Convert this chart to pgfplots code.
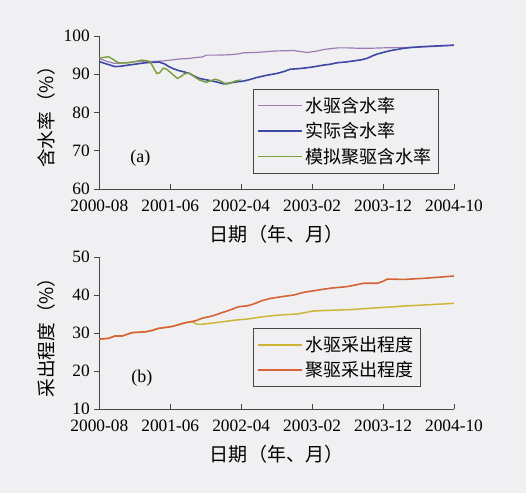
\documentclass[border=0pt]{standalone}
\usepackage{fontspec}
\setmainfont{Liberation Serif}
\newfontfamily\cjk{Noto Sans CJK SC}
\usepackage{pgfplots}
\pgfplotsset{compat=1.18}
\definecolor{bgc}{RGB}{240,240,243}
\definecolor{cpurple}{RGB}{155,125,180}
\definecolor{cblue}{RGB}{62,72,165}
\definecolor{cgreen}{RGB}{125,160,65}
\definecolor{cyellow}{RGB}{205,180,50}
\definecolor{corange}{RGB}{215,100,55}
\definecolor{axc}{RGB}{70,70,70}
\pgfplotsset{
  common/.style={
    scale only axis, width=266pt,
    axis lines=left,
    axis line style={-, draw=axc, line width=0.6pt},
    xmin=0, xmax=50,
    xtick={0,10,20,30,40,50},
    xticklabels={2000-08,2001-06,2002-04,2003-02,2003-12,2004-10},
    xtick align=inside, ytick align=outside,
    major tick length=4pt,
    tick style={draw=axc, line width=0.6pt},
    /pgf/number format/assume math mode=true,
    tick label style={font=\fontsize{13pt}{15pt}\selectfont},
    xticklabel style={anchor=center, yshift=-12.75pt, inner sep=0pt},
    yticklabel style={anchor=east, inner sep=0pt, xshift=-3pt},
    every axis x label/.style={at={(axis description cs:0.5,0)}, anchor=center, yshift=-34pt, font=\cjk\fontsize{14.3pt}{16pt}\selectfont},
    every axis y label/.style={at={(axis description cs:0,0.5)}, anchor=center, xshift=-39.5pt, rotate=90, font=\cjk\fontsize{14pt}{16pt}\selectfont},
    xlabel={日期（年、月）},
    legend style={draw=axc, fill=none, line width=0.5pt,
      font=\cjk\fontsize{13.5pt}{16pt}\selectfont,
      anchor=north west, inner xsep=3pt, inner ysep=4pt,
      row sep=2pt,
      legend cell align=left},
    legend image code/.code={\draw[##1] (0pt,0pt) -- (33pt,0pt);},
  }
}
\begin{document}
\begin{tikzpicture}
\fill[bgc] (0,0) rectangle (394.5pt,-369.75pt);
\useasboundingbox (0,0) rectangle (394.5pt,-369.75pt);

\begin{axis}[common,
  at={(74.5pt,-141.75pt)}, anchor=origin,
  height=114.75pt,
  ymin=60, ymax=100, ytick={60,70,80,90,100},
  ylabel={含水率（\%）},
  legend style={at={(rel axis cs:0.4325,0.654)}},
]
\addplot[cpurple, line width=0.9pt] coordinates {
(0,94.0)(0.5,93.8)(1,93.4)(2,92.9)(3,92.9)(4,93.1)(5,93.3)(6.5,93.3)(8,93.4)(9,93.5)(10,93.7)(11.3,94.0)(12.5,94.1)(13.7,94.4)(14.5,94.5)(15.1,95.0)(16.5,95.0)(18.4,95.1)(19.5,95.3)(20.3,95.6)(22,95.7)(23.5,95.9)(25,96.1)(27.4,96.2)(28.5,95.9)(29.3,95.7)(30.5,96.0)(31.7,96.5)(33.6,96.9)(35,96.9)(36.5,96.8)(38.3,96.8)(40,96.9)(43,97.0)(45,97.1)(47.5,97.3)(50,97.6)};
\addlegendentry{水驱含水率}
\addplot[cblue, line width=1.2pt] coordinates {
(0,93.3)(1,92.7)(2.2,92.0)(3,92.1)(4.1,92.4)(5.3,92.7)(6.5,93.0)(8.4,93.2)(9.2,92.7)(9.8,92.0)(10.5,91.4)(11.3,90.9)(12,90.6)(12.7,90.2)(13.4,89.5)(14.1,88.9)(15.5,88.4)(16.5,88.0)(17.5,87.5)(18.4,87.7)(19.3,88.0)(20.3,88.2)(21.2,88.6)(22.1,89.1)(23.5,89.7)(25,90.2)(26,90.7)(26.9,91.3)(28.3,91.5)(29.7,91.8)(30.7,92.1)(31.6,92.4)(32.5,92.6)(33.5,93.0)(34.7,93.2)(35.9,93.5)(37,93.8)(37.8,94.2)(38.5,94.8)(39.2,95.3)(40.2,95.8)(41.1,96.2)(42,96.5)(43,96.8)(44,97.0)(45.4,97.2)(47.5,97.4)(50,97.6)};
\addlegendentry{实际含水率}
\addplot[cgreen, line width=1.1pt] coordinates {
(0,94.2)(0.6,94.4)(1.3,94.6)(2.0,93.8)(2.7,93.0)(4.1,93.0)(5,93.3)(6,93.7)(6.8,93.5)(7.2,93.2)(7.7,91.5)(8.1,90.2)(8.5,90.4)(9.0,91.6)(9.5,91.3)(10.2,90.2)(11,88.9)(11.5,89.4)(11.9,90.0)(12.4,90.3)(12.8,90.2)(13.5,89.2)(14.1,88.5)(15.1,87.9)(15.7,88.3)(16.3,88.7)(16.9,88.4)(17.9,87.4)(18.5,87.7)(19.1,88.2)(20.0,88.5)};
\addlegendentry{模拟聚驱含水率}
\node[font=\fontsize{13.5pt}{16pt}\selectfont] at (axis cs:5.8,68.1) {(a)};
\end{axis}

\begin{axis}[common,
  at={(74.5pt,-306.75pt)}, anchor=origin,
  height=114pt,
  ymin=10, ymax=50, ytick={10,20,30,40,50},
  ylabel={采出程度（\%）},
  legend style={at={(rel axis cs:0.433,0.533)}},
]
\addplot[cyellow, line width=1.1pt] coordinates {
(0,28.4)(1.3,28.6)(2.2,29.2)(3.2,29.2)(4.0,29.7)(4.6,30.1)(6.5,30.3)(7.5,30.7)(8.3,31.2)(10.2,31.7)(11.2,32.2)(12.1,32.7)(13,33.0)(13.8,32.3)(14.5,32.3)(16.3,32.7)(19.2,33.4)(21,33.7)(22.7,34.2)(24.1,34.5)(26,34.8)(27.9,35.0)(30.2,35.8)(33,36.0)(35.9,36.2)(38,36.5)(40.6,36.8)(43,37.1)(46,37.4)(50,37.8)};
\addlegendentry{水驱采出程度}
\addplot[corange, line width=1.2pt] coordinates {
(0,28.4)(1.3,28.6)(2.2,29.2)(3.2,29.2)(4.0,29.7)(4.6,30.1)(6.5,30.3)(7.5,30.7)(8.3,31.2)(10.2,31.7)(11.2,32.2)(12.1,32.7)(13,33.0)(13.7,33.3)(14.5,33.9)(15.5,34.3)(16.3,34.7)(17.2,35.3)(18.2,35.9)(19.6,36.9)(21,37.2)(22,37.8)(22.9,38.5)(24.1,39.1)(25.5,39.5)(27.4,40.0)(28.8,40.7)(30.5,41.2)(32.6,41.8)(34.9,42.2)(36,42.6)(37.3,43.1)(39.2,43.1)(40,43.6)(40.6,44.2)(43,44.1)(45.8,44.4)(48,44.7)(50,45.0)};
\addlegendentry{聚驱采出程度}
\node[font=\fontsize{13.5pt}{16pt}\selectfont] at (axis cs:6,18.2) {(b)};
\end{axis}
\end{tikzpicture}
\end{document}
